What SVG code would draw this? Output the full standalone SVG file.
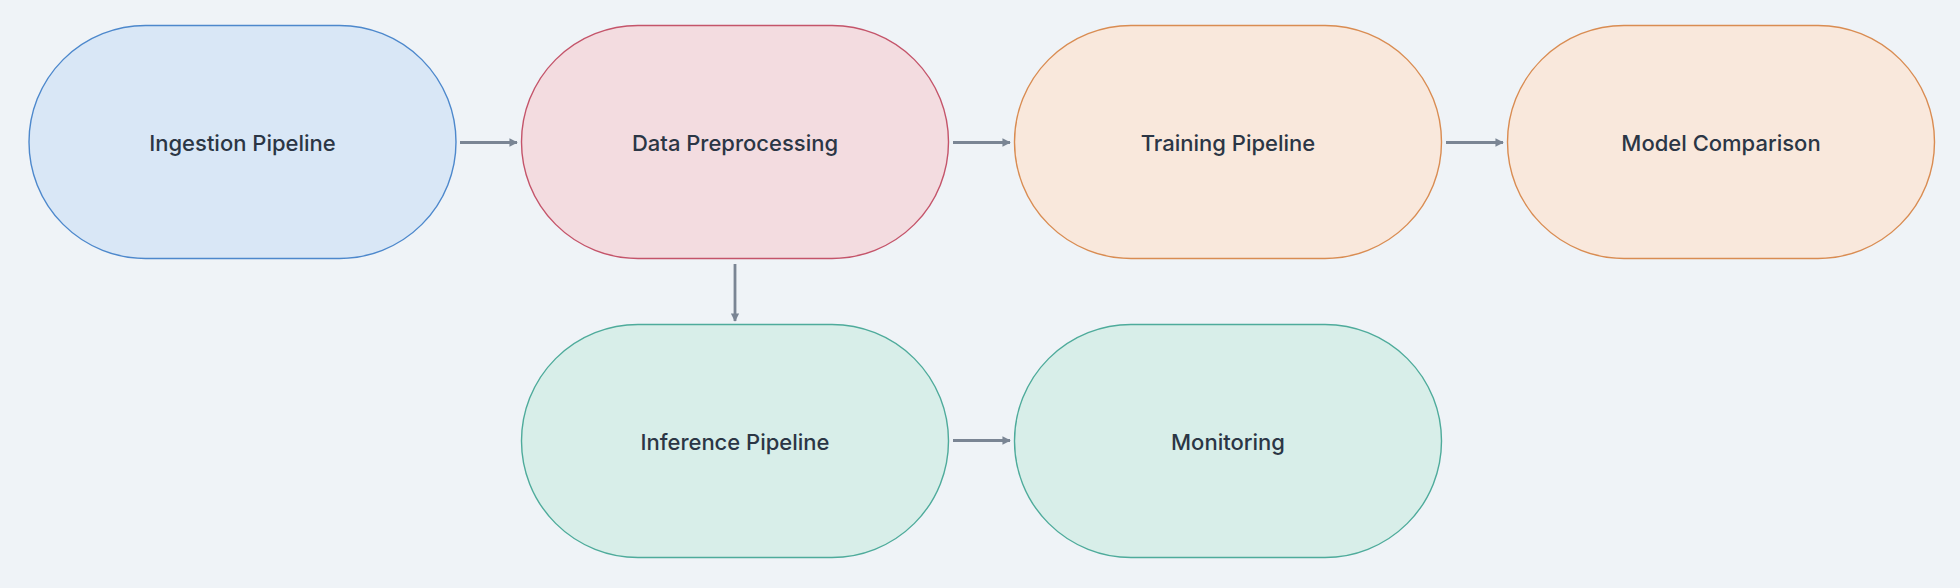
<svg xmlns="http://www.w3.org/2000/svg" width="1960" height="588" viewBox="0 0 1960 588">
<style>
.n{stroke-width:1.4}
.blue{fill:#d9e7f6;stroke:#4d88cc}
.pink{fill:#f3dce0;stroke:#c4546a}
.orange{fill:#f9e8dc;stroke:#d98c52}
.green{fill:#d8eee9;stroke:#4eab9b}
.t{font-family:Inter,"Noto Sans","DejaVu Sans",sans-serif;font-size:22px;font-weight:500;fill:#2b3645;text-anchor:middle;dominant-baseline:central}
.c{stroke:#7a8594;stroke-width:2.8;fill:none;marker-end:url(#ah)}
</style>
<defs>
<marker id="ah" viewBox="0 0 10 10" refX="9" refY="5" markerWidth="3" markerHeight="3" orient="auto" markerUnits="strokeWidth">
<path d="M0,0 L10,5 L0,10 z" fill="#7a8594"/>
</marker>
</defs>
<rect width="1960" height="588" fill="#eff3f7"/>
<g id="connectors">
<line class="c" x1="460" y1="142.5" x2="517" y2="142.5"/>
<line class="c" x1="953" y1="142.5" x2="1010" y2="142.5"/>
<line class="c" x1="1446" y1="142.5" x2="1503" y2="142.5"/>
<line class="c" x1="735" y1="264" x2="735" y2="321"/>
<line class="c" x1="953" y1="440.5" x2="1010" y2="440.5"/>
</g>
<g id="ingestion">
<rect class="n blue" x="29" y="25.5" width="427" height="233" rx="116.5" ry="116.5"/>
<text class="t" x="242.5" y="143">Ingestion Pipeline</text>
</g>
<g id="preprocessing">
<rect class="n pink" x="521.5" y="25.5" width="427" height="233" rx="116.5" ry="116.5"/>
<text class="t" x="735" y="143">Data Preprocessing</text>
</g>
<g id="training">
<rect class="n orange" x="1014.5" y="25.5" width="427" height="233" rx="116.5" ry="116.5"/>
<text class="t" x="1228" y="143">Training Pipeline</text>
</g>
<g id="comparison">
<rect class="n orange" x="1507.5" y="25.5" width="427" height="233" rx="116.5" ry="116.5"/>
<text class="t" x="1721" y="143">Model Comparison</text>
</g>
<g id="inference">
<rect class="n green" x="521.5" y="324.5" width="427" height="233" rx="116.5" ry="116.5"/>
<text class="t" x="735" y="442">Inference Pipeline</text>
</g>
<g id="monitoring">
<rect class="n green" x="1014.5" y="324.5" width="427" height="233" rx="116.5" ry="116.5"/>
<text class="t" x="1228" y="442">Monitoring</text>
</g>
</svg>
